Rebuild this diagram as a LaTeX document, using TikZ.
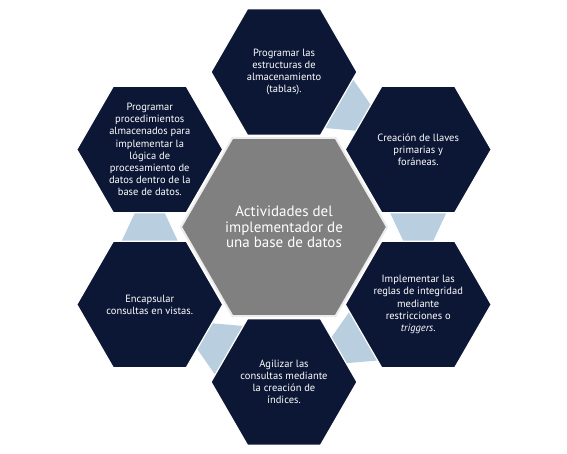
\documentclass[tikz,border=0pt]{standalone}
\usepackage{fontspec}
\setmainfont{PT Sans}
\usetikzlibrary{shapes.geometric,calc,backgrounds}
\definecolor{navy}{HTML}{0C1735}
\definecolor{bandblue}{HTML}{B9CFE0}
\definecolor{hubgray}{HTML}{808080}

\begin{document}
\begin{tikzpicture}[x=1pt,y=1pt,
  hexa/.style={regular polygon,regular polygon sides=6,minimum size=146pt,
    inner sep=0pt,fill=navy,draw=white,line width=1.2pt},
  hub/.style={regular polygon,regular polygon sides=6,minimum size=206pt,
    inner sep=0pt,fill=hubgray,draw=gray!15,line width=2pt},
  txt/.style={text=white,align=center,font=\fontsize{10.5}{12.2}\selectfont},
  hubtxt/.style={text=white,align=center,font=\fontsize{15}{15.5}\selectfont},
  band/.style={fill=bandblue}]
  \useasboundingbox (-284,-227) rectangle (283,227);
  % draw center hexagon
  \node[hub] (hub) at (0,0) {};
  \node[hubtxt] (hubtxt) at (hub) {Actividades del\\implementador de\\una base de datos};
  % draw outer hexagons
  \node[hexa] (tablas) at (90:155) {};
  \node[hexa] (llaves) at (30:155) {};
  \node[hexa] (reglas) at (-30:155) {};
  \node[hexa] (indices) at (-90:155) {};
  \node[hexa] (vistas) at (-150:155) {};
  \node[hexa] (proced) at (150:155) {};
  % draw labels
  \node[txt] (tablastxt) at (tablas) {Programar las\\estructuras de\\almacenamiento\\(tablas).};
  \node[txt] (llavestxt) at (llaves) {Creación de llaves\\primarias y\\foráneas.};
  \node[txt] (reglastxt) at (reglas) {Implementar las\\reglas de integridad\\mediante\\restricciones o\\\textit{triggers}.};
  \node[txt] (indicestxt) at (indices) {Agilizar las\\consultas mediante\\la creación de\\índices.};
  \node[txt] (vistastxt) at (vistas) {Encapsular\\consultas en vistas.};
  \node[txt] (procedtxt) at (proced) {Programar\\procedimientos\\almacenados para\\implementar la\\lógica de\\procesamiento de\\datos dentro de la\\base de datos.};
  % draw bands behind the hexagons
  \begin{pgfonlayer}{background}
    \fill[band] ($(tablas)!0.355!(llaves)!32pt!90:(llaves)$) -- ($(tablas)!0.645!(llaves)!11pt!90:(llaves)$)
      -- ($(tablas)!0.645!(llaves)!11pt!-90:(llaves)$) -- ($(tablas)!0.355!(llaves)!32pt!-90:(llaves)$) -- cycle;
    \fill[band] ($(llaves)!0.355!(reglas)!32pt!90:(reglas)$) -- ($(llaves)!0.645!(reglas)!11pt!90:(reglas)$)
      -- ($(llaves)!0.645!(reglas)!11pt!-90:(reglas)$) -- ($(llaves)!0.355!(reglas)!32pt!-90:(reglas)$) -- cycle;
    \fill[band] ($(reglas)!0.355!(indices)!32pt!90:(indices)$) -- ($(reglas)!0.645!(indices)!11pt!90:(indices)$)
      -- ($(reglas)!0.645!(indices)!11pt!-90:(indices)$) -- ($(reglas)!0.355!(indices)!32pt!-90:(indices)$) -- cycle;
    \fill[band] ($(indices)!0.355!(vistas)!32pt!90:(vistas)$) -- ($(indices)!0.645!(vistas)!11pt!90:(vistas)$)
      -- ($(indices)!0.645!(vistas)!11pt!-90:(vistas)$) -- ($(indices)!0.355!(vistas)!32pt!-90:(vistas)$) -- cycle;
    \fill[band] ($(vistas)!0.355!(proced)!32pt!90:(proced)$) -- ($(vistas)!0.645!(proced)!11pt!90:(proced)$)
      -- ($(vistas)!0.645!(proced)!11pt!-90:(proced)$) -- ($(vistas)!0.355!(proced)!32pt!-90:(proced)$) -- cycle;
  \end{pgfonlayer}
\end{tikzpicture}
\end{document}
